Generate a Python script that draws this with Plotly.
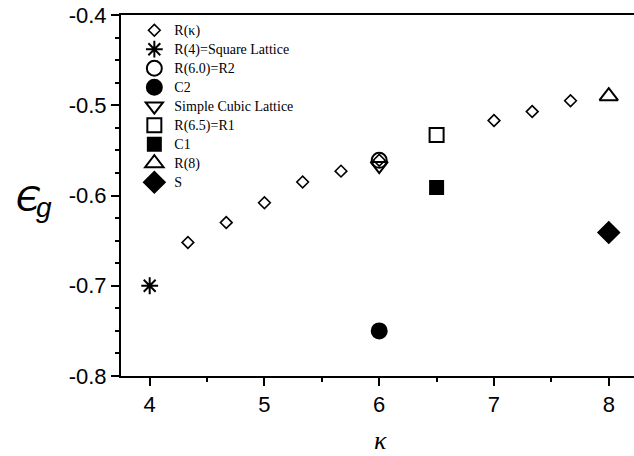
import plotly.graph_objects as go

# R(kappa) series
rk_x = [4.333, 4.667, 5.0, 5.333, 5.667, 6.0, 7.0, 7.333, 7.667]
rk_y = [-0.652, -0.630, -0.608, -0.585, -0.573, -0.561, -0.517, -0.507, -0.495]

# single points
names = ["R(κ)", "R(4)=Square Lattice", "R(6.0)=R2", "C2", "Simple Cubic Lattice",
         "R(6.5)=R1", "C1", "R(8)", "S"]
pt_x = [4.0, 6.0, 6.0, 6.0, 6.5, 6.5, 8.0, 8.0]
pt_y = [-0.700, -0.561, -0.750, -0.567, -0.533, -0.591, -0.490, -0.641]

symbols = ["diamond-open", "asterisk-open", "circle-open", "circle", "triangle-down-open",
           "square-open", "square", "triangle-up-open", "diamond"]
sizes = [9, 14, 15, 15, 15, 14, 13, 16, 16]


def label(s):
    return '<span style="font-size:14px">' + s + '</span>'


fig = go.Figure()
fig.add_trace(go.Scatter(x=rk_x, y=rk_y, mode="markers", name=label(names[0]),
                         marker=dict(symbol=symbols[0], size=sizes[0], color="black",
                                     line=dict(color="black", width=1.6))))
for i in range(8):
    fig.add_trace(go.Scatter(x=[pt_x[i]], y=[pt_y[i]], mode="markers", name=label(names[i + 1]),
                             marker=dict(symbol=symbols[i + 1], size=sizes[i + 1], color="black",
                                         line=dict(color="black", width=2))))

axis_common = dict(showline=True, linecolor="black", linewidth=2, ticks="outside",
                   ticklen=8, tickwidth=2, tickcolor="black", showgrid=False, zeroline=False,
                   automargin=False, ticklabeloverflow="allow",
                   tickfont=dict(family="Liberation Sans, Arial", size=22, color="black"))

fig.update_xaxes(range=[3.75, 8.22], tickvals=[4, 5, 6, 7, 8], mirror=True,
                 minor=dict(ticks="outside", ticklen=4, tickwidth=2, tickcolor="black", dtick=0.5, tick0=0),
                 **axis_common)
fig.update_yaxes(range=[-0.8, -0.4], tickvals=[-0.8, -0.7, -0.6, -0.5, -0.4],
                 ticktext=["-0.8", "-0.7", "-0.6", "-0.5", "-0.4"],
                 minor=dict(ticks="outside", ticklen=4, tickwidth=2, tickcolor="black", dtick=0.025, tick0=0),
                 **axis_common)

fig.update_layout(
    width=634, height=456,
    margin=dict(l=121, r=0, t=15, b=80),
    paper_bgcolor="white", plot_bgcolor="white",
    showlegend=True,
    legend=dict(x=0.026, y=0.998, xanchor="left", yanchor="top", bgcolor="rgba(0,0,0,0)",
                font=dict(family="Liberation Serif, Times New Roman", size=12, color="black"),
                tracegroupgap=0, itemwidth=30),
    annotations=[
        dict(text="<i>Є</i>", xref="paper", yref="paper", x=-0.181, y=0.49,
             xanchor="center", yanchor="middle", showarrow=False,
             font=dict(family="DejaVu Sans", size=34, color="black")),
        dict(text="<i>g</i>", xref="paper", yref="paper", x=-0.151, y=0.466,
             xanchor="center", yanchor="middle", showarrow=False,
             font=dict(family="Liberation Sans", size=28, color="black")),
        dict(text="<i>κ</i>", xref="paper", yref="paper", x=0.506, y=-0.18,
             xanchor="center", yanchor="middle", showarrow=False,
             font=dict(family="Liberation Serif", size=26, color="black")),
    ],
)

fig.write_html("out.html", config={"displayModeBar": False},
               post_script="document.body.style.margin='0';document.body.style.overflow='hidden';")
